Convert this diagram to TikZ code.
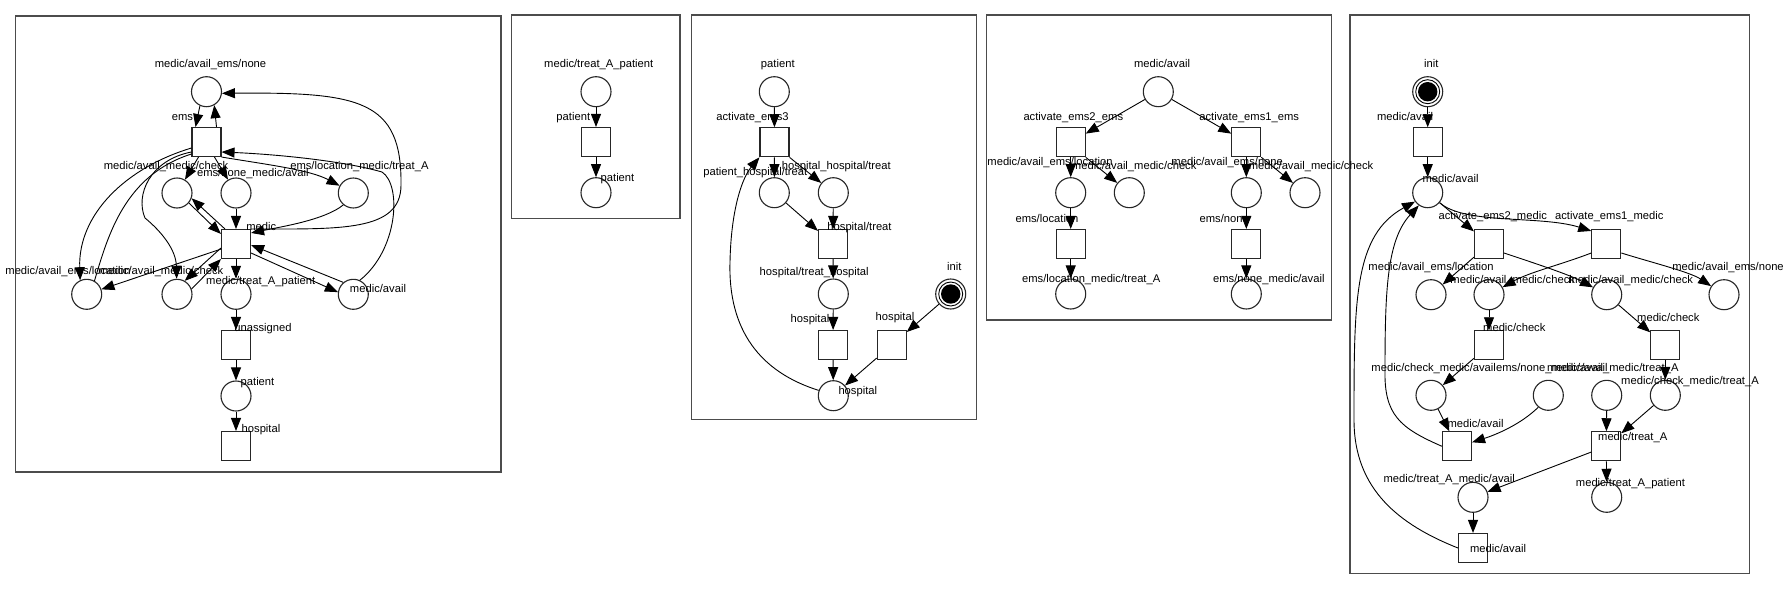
\documentclass[tikz,border=0pt]{standalone}
\usepackage{fontspec}
\setmainfont{Liberation Sans}
\usetikzlibrary{arrows.meta}

\begin{document}
\begin{tikzpicture}[x=1pt, y=-1pt,
        place/.style={circle, draw=black!85, line width=1.1pt, minimum size=30pt, inner sep=0pt},
        trans/.style={rectangle, draw=black!85, line width=1.1pt, minimum size=29pt, inner sep=0pt},
        lab/.style={inner sep=0pt, font=\fontsize{11.2}{13}\selectfont, text height=8pt, text depth=0pt},
        arc/.style={line width=0.9pt, -{Triangle[length=13pt, width=10pt]}},
        plain/.style={line width=0.9pt},
        panel/.style={draw=black!70, line width=1.4pt}]
        \fill[white] (0,0) rectangle (1790,589);
        \useasboundingbox (0,0) rectangle (1790,589);

        % panels
        \draw[panel] (15.7,16) rectangle (501,472);
        \draw[panel] (511.7,15) rectangle (680,218.3);
        \draw[panel] (691.7,15) rectangle (976.7,419.3);
        \draw[panel] (986.7,15) rectangle (1331.7,320);
        \draw[panel] (1350,15) rectangle (1749.3,573.3);

        % first net
        \node[place] (Ane) at (206.5,91.7) {};
        \node[trans] (Aems) at (206.5,142) {};
        \node[place] (Achk) at (177,193) {};
        \node[place] (Anone) at (236,193) {};
        \node[place] (Aloc) at (353.3,193) {};
        \node[trans] (Amedic) at (236,244) {};
        \node[place] (Aeloc) at (86.7,294.3) {};
        \node[place] (Achk2) at (177,294.3) {};
        \node[place] (Apat) at (236,294.3) {};
        \node[place] (Aavail) at (353.3,294.3) {};
        \node[trans] (Aunas) at (236,345) {};
        \node[place] (Apat2) at (236,396) {};
        \node[trans] (Ahosp) at (236,446) {};

        \node[lab] at (210.5,63.3) {medic/avail\_ems/none};
        \node[lab] at (182.5,116.7) {ems};
        \node[lab] at (166,165.7) {medic/avail\_medic/check};
        \node[lab] at (252.8,172.3) {ems/none\_medic/avail};
        \node[lab] at (359.4,165.7) {ems/location\_medic/treat\_A};
        \node[lab] at (261.3,226.7) {medic};
        \node[lab] at (68,270) {medic/avail\_ems/location};
        \node[lab] at (161,270) {medic/avail\_medic/check};
        \node[lab] at (260.7,280) {medic/treat\_A\_patient};
        \node[lab] at (378,288.3) {medic/avail};
        \node[lab] at (263,327) {unassigned};
        \node[lab] at (257.5,381) {patient};
        \node[lab] at (261,428.3) {hospital};

        \draw[arc] (Ane.245) -- ([xshift=-11pt]Aems.north);
        \draw[arc] ([xshift=10pt]Aems.north) -- (Ane.300);
        \draw[arc] ([xshift=-8pt]Aems.south) -- (Achk);
        \draw[arc] ([xshift=8pt]Aems.south) -- (Anone);
        \draw[arc] (Aems.south east) .. controls (270,165) and (310,170) .. (Aloc);
        \draw[arc] (Aavail.65) .. controls (398,250) and (402,185) .. (382,172)
                .. controls (340,160) and (270,154) .. ([yshift=-10pt]Aems.east);
        \draw[arc] ([yshift=-6pt]Aems.west) .. controls (125,168) and (78,215) .. (Aeloc.115);
        \draw[plain] (Aeloc.60) .. controls (108,235) and (125,175) .. ([yshift=-12pt]Aems.west);
        \draw[arc] ([yshift=-10pt]Aems.west) .. controls (150,160) and (135,195) .. (145,218)
                .. controls (162,232) and (176,250) .. (Achk2);
        \draw[arc] (Achk.-40) -- ([yshift=-5pt]Amedic.north west);
        \draw[arc] ([xshift=4pt]Amedic.north west) -- (Achk.-20);
        \draw[arc] (Anone) -- (Amedic);
        \draw[arc] (Aloc.230) .. controls (325,220) and (280,227) .. ([yshift=-4pt]Amedic.north east);
        \draw[arc] (Amedic.north east) .. controls (340,229) and (401,232) .. (401,185)
                .. controls (402,100) and (360,92) .. (Ane.-6);
        \draw[arc] (Amedic) -- (Aeloc);
        \draw[arc] ([yshift=-4pt]Amedic.west) -- (Achk2.60);
        \draw[arc] (Achk2.20) -- (Amedic.south west);
        \draw[arc] ([yshift=-9pt]Amedic.east) -- (Aavail.172);
        \draw[arc] (Aavail.130) -- ([yshift=-1pt]Amedic.east);
        \draw[arc] (Amedic) -- (Apat);
        \draw[arc] (Apat) -- (Aunas);
        \draw[arc] (Aunas) -- (Apat2);
        \draw[arc] (Apat2) -- (Ahosp);

        % second net
        \node[place] (Bp1) at (596,91.7) {};
        \node[trans] (Bt) at (596,142) {};
        \node[place] (Bp2) at (596,192.7) {};
        \node[lab] at (598.7,63.3) {medic/treat\_A\_patient};
        \node[lab] at (573.3,116.7) {patient};
        \node[lab] at (617.5,177.7) {patient};
        \draw[arc] (Bp1) -- (Bt);
        \draw[arc] (Bt) -- (Bp2);

        % third net
        \node[place] (Cpat) at (774.3,91.7) {};
        \node[trans] (Cact) at (774.5,142.3) {};
        \node[place] (Cpht) at (774.3,192.7) {};
        \node[place] (Chht) at (833.3,192.7) {};
        \node[trans] (Ctreat) at (833,244) {};
        \node[place] (Cth) at (833.3,294) {};
        \node[trans] (Chosp1) at (833,345) {};
        \node[trans] (Chosp2) at (891.7,345) {};
        \node[place] (Cinit) at (950.7,294) {};
        \node[place] (Chospp) at (833.3,395.7) {};
        \draw[line width=0.9pt] (Cinit) circle (12pt);
        \fill (Cinit) circle (9.7pt);

        \node[lab] at (777.8,63.3) {patient};
        \node[lab] at (752.5,116.7) {activate\_ems3};
        \node[lab] at (755.3,171) {patient\_hospital/treat};
        \node[lab] at (836.3,165.7) {hospital\_hospital/treat};
        \node[lab] at (859.5,226.7) {hospital/treat};
        \node[lab] at (814.2,271) {hospital/treat\_hospital};
        \node[lab] at (810,318.3) {hospital};
        \node[lab] at (895,316.7) {hospital};
        \node[lab] at (954.2,266.7) {init};
        \node[lab] at (857.8,390) {hospital};

        \draw[arc] (Cpat) -- (Cact);
        \draw[arc] (Cact) -- (Cpht);
        \draw[arc] (Cact.south east) -- (Chht);
        \draw[arc] (Cpht) -- (Ctreat);
        \draw[arc] (Chht) -- (Ctreat);
        \draw[arc] (Ctreat) -- (Cth);
        \draw[arc] (Cth) -- (Chosp1);
        \draw[arc] (Cinit) -- (Chosp2);
        \draw[arc] (Chosp1) -- (Chospp);
        \draw[arc] (Chosp2) -- (Chospp);
        \draw[arc] (Chospp.160) .. controls (760,372) and (728,330) .. (730,262)
                .. controls (731,210) and (742,178) .. (Cact.south west);

        % fourth net
        \node[place] (Dav) at (1158.3,91.7) {};
        \node[trans] (Da2) at (1070.7,142.3) {};
        \node[trans] (Da1) at (1246.3,142.3) {};
        \node[place] (Dloc) at (1070.7,192.7) {};
        \node[place] (Dchk1) at (1129.3,192.7) {};
        \node[place] (Dnone) at (1246.3,192.7) {};
        \node[place] (Dchk2) at (1305,192.7) {};
        \node[trans] (Dtl) at (1070.7,244) {};
        \node[trans] (Dtn) at (1246.3,244) {};
        \node[place] (Dlt) at (1070.7,294) {};
        \node[place] (Dnm) at (1246.3,294) {};

        \node[lab] at (1162,63.3) {medic/avail};
        \node[lab] at (1073.3,116) {activate\_ems2\_ems};
        \node[lab] at (1249.2,116) {activate\_ems1\_ems};
        \node[lab] at (1050,161.7) {medic/avail\_ems/location};
        \node[lab] at (1134.2,165.7) {medic/avail\_medic/check};
        \node[lab] at (1227.2,161.7) {medic/avail\_ems/none};
        \node[lab] at (1311,165.7) {medic/avail\_medic/check};
        \node[lab] at (1047,218.3) {ems/location};
        \node[lab] at (1224.2,218.3) {ems/none};
        \node[lab] at (1091.2,278.3) {ems/location\_medic/treat\_A};
        \node[lab] at (1268.8,278.3) {ems/none\_medic/avail};

        \draw[arc] (Dav) -- (Da2);
        \draw[arc] (Dav) -- (Da1);
        \draw[arc] (Da2) -- (Dloc);
        \draw[arc] (Da2.south east) -- (Dchk1);
        \draw[arc] (Da1) -- (Dnone);
        \draw[arc] (Da1.south east) -- (Dchk2);
        \draw[arc] (Dloc) -- (Dtl);
        \draw[arc] (Dtl) -- (Dlt);
        \draw[arc] (Dnone) -- (Dtn);
        \draw[arc] (Dtn) -- (Dnm);

        % fifth net
        \node[place] (Einit) at (1427.7,91.7) {};
        \node[trans] (Et0) at (1427.7,142.3) {};
        \node[place] (Eav) at (1427.7,192.7) {};
        \node[trans] (Ea2) at (1489,244) {};
        \node[trans] (Ea1) at (1606.3,244) {};
        \node[place] (Eloc) at (1431,294.7) {};
        \node[place] (Echk1) at (1489,294.7) {};
        \node[place] (Echk2) at (1606.7,294.7) {};
        \node[place] (Enone) at (1724,294.7) {};
        \node[trans] (Emc1) at (1489,345.3) {};
        \node[trans] (Emc2) at (1665.3,345.3) {};
        \node[place] (Ecma) at (1431,395.3) {};
        \node[place] (Enm) at (1548.3,395.3) {};
        \node[place] (Emt) at (1606.7,395.3) {};
        \node[place] (Ecmt) at (1665.3,395.3) {};
        \node[trans] (Ema) at (1457,446.3) {};
        \node[trans] (Etr) at (1606.3,446.3) {};
        \node[place] (Etma) at (1473,497.3) {};
        \node[place] (Etp) at (1606.7,497.3) {};
        \node[trans] (Ema2) at (1473,548) {};
        \draw[line width=0.9pt] (Einit) circle (12pt);
        \fill (Einit) circle (9.7pt);

        \node[lab] at (1431.2,63.3) {init};
        \node[lab] at (1405,116.7) {medic/avail};
        \node[lab] at (1450.5,178.3) {medic/avail};
        \node[lab] at (1492.7,215.7) {activate\_ems2\_medic};
        \node[lab] at (1609.3,215.7) {activate\_ems1\_medic};
        \node[lab] at (1431,266.7) {medic/avail\_ems/location};
        \node[lab] at (1512.7,279.3) {medic/avail\_medic/check};
        \node[lab] at (1630.7,279.3) {medic/avail\_medic/check};
        \node[lab] at (1728,266.7) {medic/avail\_ems/none};
        \node[lab] at (1514.3,327.3) {medic/check};
        \node[lab] at (1668.3,317.3) {medic/check};
        \node[lab] at (1433.7,367.3) {medic/check\_medic/avail};
        \node[lab] at (1551.8,367.3) {ems/none\_medic/avail};
        \node[lab] at (1612.8,367.3) {medic/avail\_medic/treat\_A};
        \node[lab] at (1690,380.7) {medic/check\_medic/treat\_A};
        \node[lab] at (1475.5,423.3) {medic/avail};
        \node[lab] at (1632.7,436.7) {medic/treat\_A};
        \node[lab] at (1449.2,478.3) {medic/treat\_A\_medic/avail};
        \node[lab] at (1630.4,482.7) {medic/treat\_A\_patient};
        \node[lab] at (1498,548.3) {medic/avail};

        \draw[arc] (Einit) -- (Et0);
        \draw[arc] (Et0) -- (Eav);
        \draw[arc] (Eav) -- (Ea2);
        \draw[arc] (Eav.-40) .. controls (1465,225) and (1540,215) .. ([yshift=-2pt]Ea1.north west);
        \draw[arc] (Ea2) -- (Eloc);
        \draw[arc] ([yshift=-9pt]Ea2.east) .. controls (1540,265) and (1570,275) .. (Echk2);
        \draw[arc] ([yshift=-9pt]Ea1.west) .. controls (1560,265) and (1530,272) .. (Echk1);
        \draw[arc] ([yshift=-9pt]Ea1.east) .. controls (1650,262) and (1690,272) .. (Enone);
        \draw[arc] (Echk1) -- (Emc1);
        \draw[arc] (Echk2) -- (Emc2);
        \draw[arc] (Emc1) -- (Ecma);
        \draw[arc] (Emc2) -- (Ecmt);
        \draw[arc] (Ecma) -- (Ema);
        \draw[arc] (Enm.230) .. controls (1520,425) and (1495,435) .. ([yshift=4pt]Ema.east);
        \draw[arc] (Emt) -- (Etr);
        \draw[arc] (Ecmt) -- (Etr);
        \draw[arc] (Etr) -- (Etma);
        \draw[arc] (Etr) -- (Etp);
        \draw[arc] (Etma) -- (Ema2);
        \draw[arc] (Ema.west) .. controls (1400,428) and (1384,415) .. (1385,370)
                .. controls (1385,290) and (1387,240) .. (Eav.235);
        \draw[arc] (Ema2.west) .. controls (1400,525) and (1354,490) .. (1354,420)
                .. controls (1354,300) and (1354,235) .. (Eav.215);
\end{tikzpicture}
\end{document}
